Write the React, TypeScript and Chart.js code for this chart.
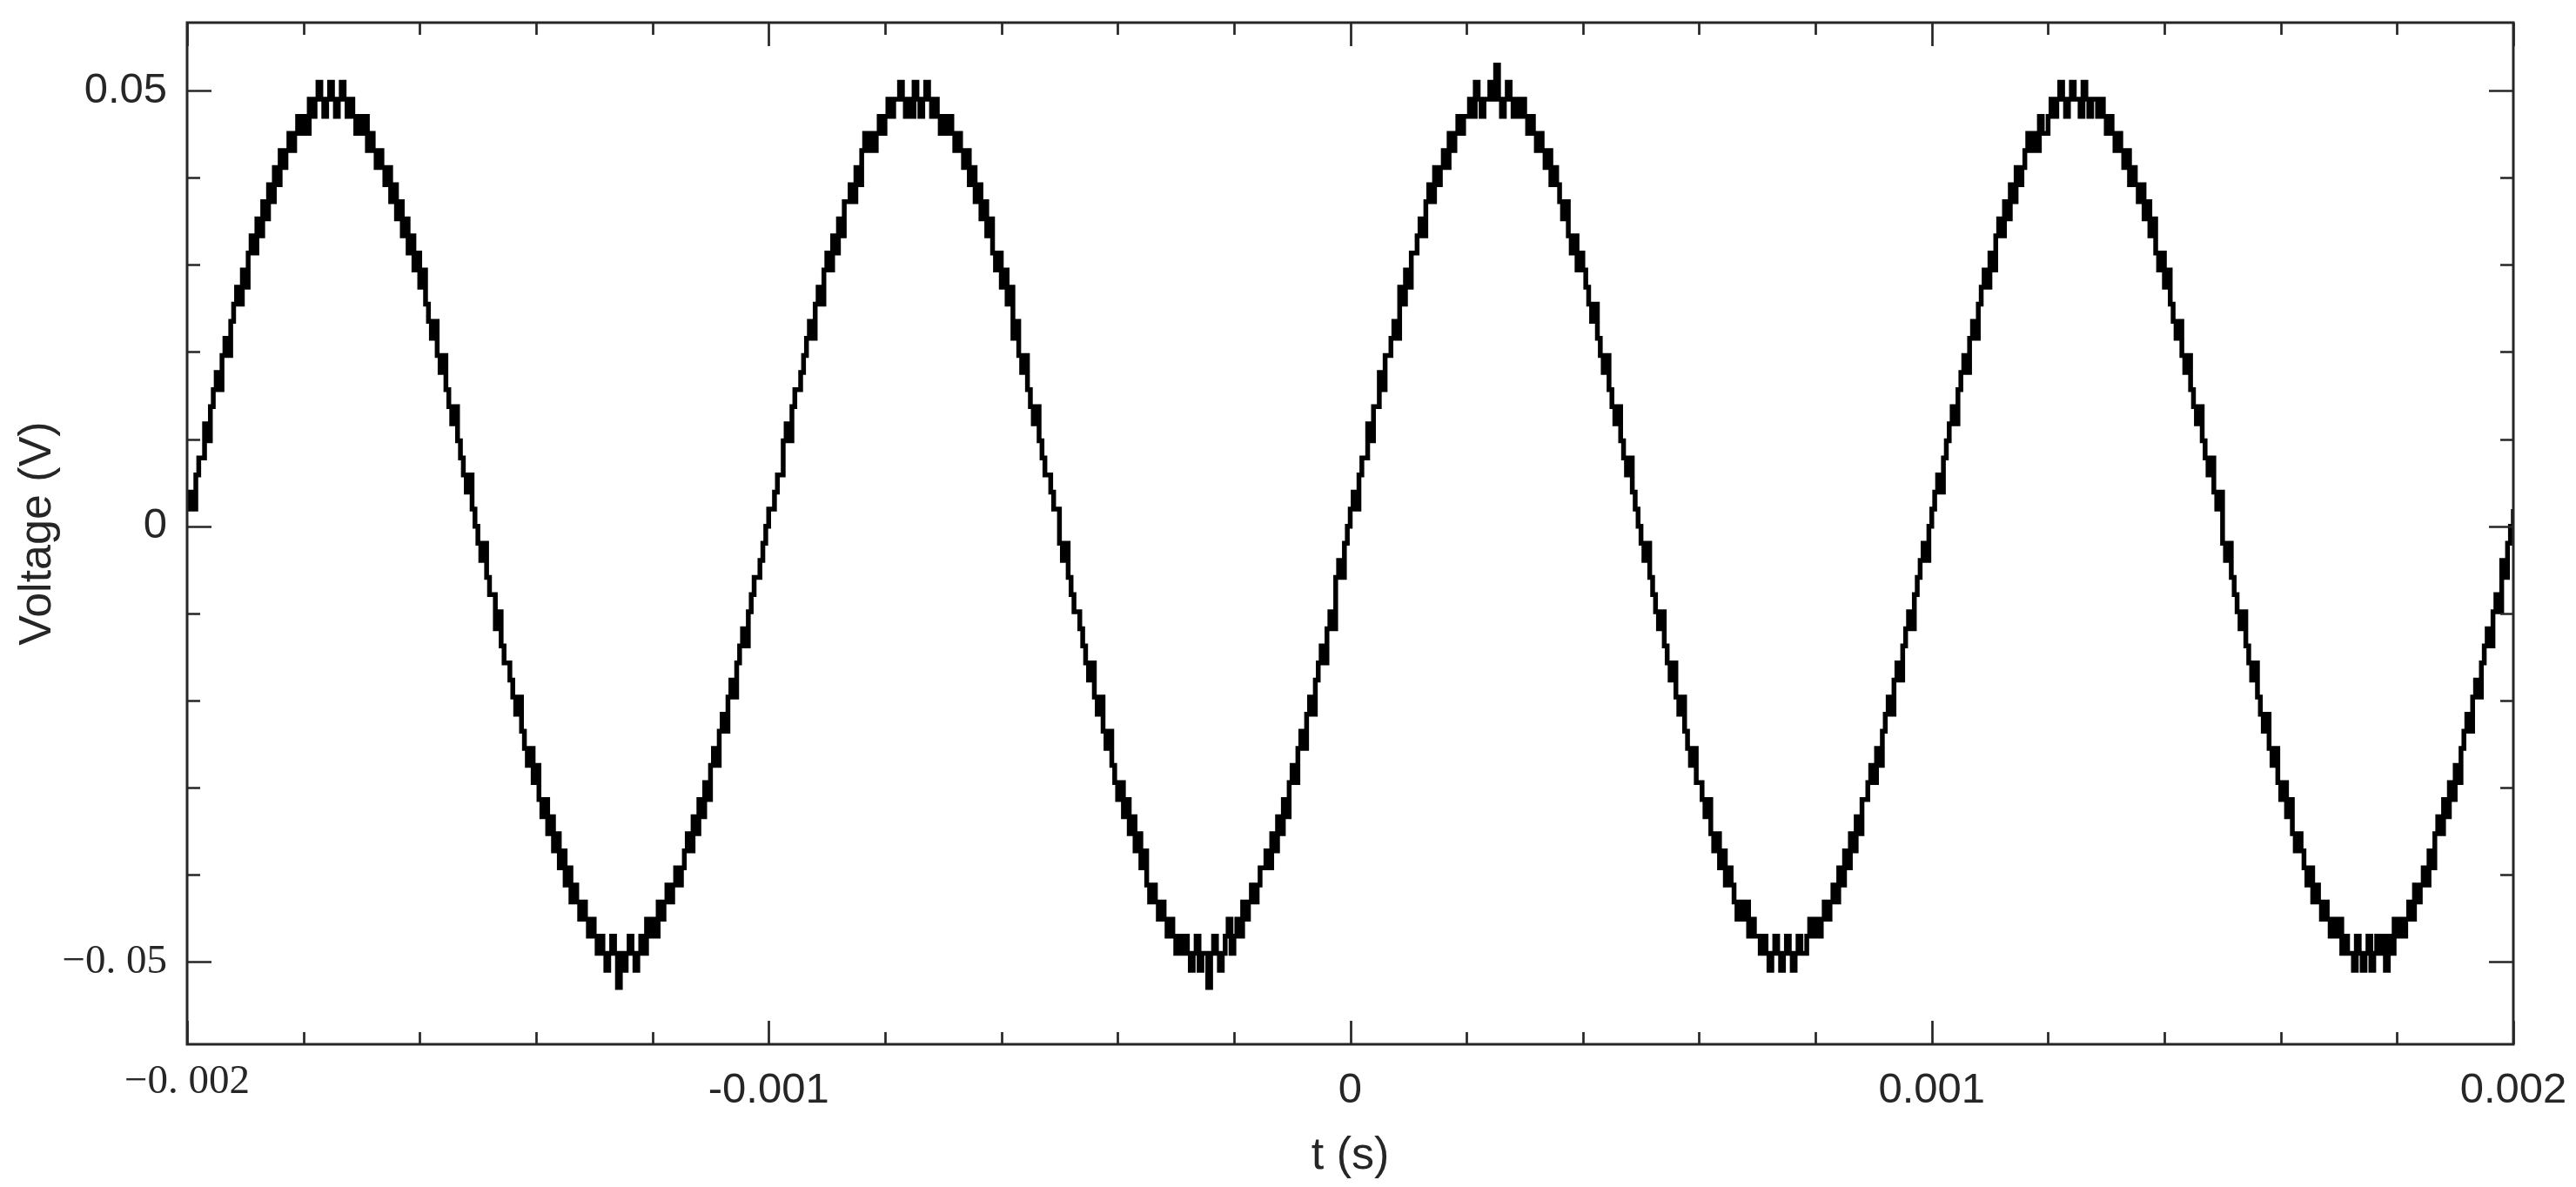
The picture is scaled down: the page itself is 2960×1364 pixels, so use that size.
import React, { useEffect, useRef } from "react";
import { Chart, registerables } from "chart.js";

Chart.register(...registerables);

// ---- sampling ----
const T_START = -0.002; // s, first sample
const SAMPLE_INTERVAL = 5e-6; // s between samples
const VOLTS_PER_CODE = 0.00196; // one ADC step in volts

// ---- ADC codes, one cycle (1 ms) per array ----
const CYCLE_1 = [
  1, 2, 1, 3, 4, 4, 6, 5, 7, 8,
  9, 8, 10, 11, 10, 12, 13, 14, 13, 15,
  14, 16, 17, 16, 18, 17, 19, 18, 20, 19,
  21, 20, 22, 21, 22, 23, 22, 23, 24, 23,
  24, 23, 25, 24, 25, 26, 25, 24, 25, 26,
  25, 24, 25, 26, 25, 24, 25, 24, 23, 24,
  23, 24, 22, 23, 22, 21, 22, 21, 20, 21,
  19, 20, 18, 19, 17, 18, 16, 17, 15, 16,
  14, 15, 13, 12, 11, 12, 10, 9, 10, 8,
  7, 6, 7, 5, 4, 3, 2, 3, 1, 0,
  -1, -2, -1, -3, -4, -4, -6, -5, -7, -8,
  -8, -9, -10, -11, -10, -12, -13, -14, -13, -15,
  -14, -16, -17, -16, -18, -17, -19, -18, -20, -19,
  -21, -20, -22, -21, -22, -23, -22, -23, -24, -23,
  -24, -25, -24, -25, -26, -25, -24, -25, -27, -25,
  -26, -25, -24, -25, -26, -25, -24, -25, -23, -24,
  -23, -24, -22, -23, -22, -21, -22, -21, -20, -21,
  -20, -19, -18, -19, -17, -18, -16, -17, -15, -16,
  -14, -13, -14, -12, -11, -12, -10, -9, -10, -8,
  -7, -6, -7, -5, -4, -3, -3, -2, -1, 0,
];

const CYCLE_2 = [
  1, 1, 2, 3, 3, 5, 6, 5, 7, 8,
  8, 9, 10, 11, 12, 11, 13, 14, 13, 15,
  16, 15, 17, 16, 18, 17, 19, 19, 20, 19,
  21, 20, 22, 23, 22, 23, 22, 23, 24, 23,
  24, 25, 24, 25, 25, 26, 25, 24, 25, 24,
  26, 25, 24, 25, 26, 25, 24, 25, 24, 23,
  24, 23, 24, 23, 22, 23, 22, 21, 22, 20,
  21, 19, 20, 18, 19, 17, 18, 16, 15, 16,
  14, 15, 13, 14, 11, 12, 10, 9, 10, 8,
  7, 6, 7, 5, 4, 3, 3, 2, 1, 1,
  -1, -2, -1, -3, -4, -5, -5, -6, -7, -8,
  -9, -8, -10, -11, -10, -12, -13, -12, -14, -15,
  -16, -15, -17, -16, -18, -17, -19, -18, -20, -19,
  -21, -22, -21, -22, -23, -22, -23, -24, -23, -24,
  -25, -24, -25, -24, -25, -26, -25, -24, -26, -25,
  -25, -27, -25, -24, -25, -26, -25, -24, -23, -25,
  -24, -23, -24, -22, -23, -22, -21, -22, -21, -20,
  -20, -19, -20, -18, -19, -17, -18, -16, -17, -15,
  -14, -15, -13, -12, -13, -11, -10, -11, -9, -8,
  -7, -8, -6, -5, -6, -3, -2, -3, -1, 0,
];

const CYCLE_3 = [
  1, 2, 1, 3, 4, 4, 6, 5, 7, 7,
  9, 8, 10, 10, 11, 12, 11, 14, 13, 15,
  14, 16, 16, 17, 18, 17, 19, 20, 19, 21,
  20, 21, 22, 21, 23, 22, 23, 24, 23, 24,
  24, 25, 24, 26, 25, 24, 25, 25, 26, 25,
  27, 25, 24, 25, 26, 25, 24, 25, 24, 25,
  24, 23, 24, 23, 22, 23, 22, 21, 22, 20,
  21, 20, 19, 18, 19, 17, 16, 17, 15, 16,
  15, 14, 13, 12, 13, 11, 10, 9, 10, 8,
  7, 6, 7, 5, 4, 3, 4, 2, 1, 0,
  -1, -2, -1, -3, -4, -5, -6, -5, -7, -8,
  -9, -8, -10, -11, -10, -12, -13, -14, -13, -15,
  -15, -16, -17, -16, -18, -19, -18, -20, -19, -21,
  -20, -21, -22, -23, -22, -23, -22, -24, -23, -24,
  -24, -25, -24, -25, -26, -25, -24, -25, -26, -25,
  -24, -25, -26, -25, -24, -25, -25, -24, -23, -24,
  -23, -24, -23, -22, -23, -22, -21, -22, -20, -21,
  -19, -20, -18, -19, -17, -18, -16, -16, -15, -14,
  -15, -13, -14, -12, -11, -10, -11, -9, -8, -9,
  -7, -6, -5, -6, -4, -3, -2, -1, -2, 0,
];

const CYCLE_4 = [
  1, 2, 3, 2, 4, 5, 6, 7, 6, 8,
  9, 10, 9, 11, 12, 11, 13, 14, 15, 14,
  16, 15, 17, 18, 17, 19, 18, 20, 19, 21,
  20, 21, 22, 23, 22, 23, 22, 24, 23, 23,
  24, 25, 24, 25, 26, 25, 24, 25, 26, 25,
  25, 24, 26, 25, 24, 25, 25, 24, 25, 24,
  23, 24, 23, 22, 23, 22, 21, 22, 20, 21,
  20, 19, 20, 18, 19, 17, 18, 16, 15, 16,
  14, 15, 13, 12, 11, 12, 10, 9, 10, 8,
  7, 6, 7, 5, 4, 3, 4, 2, 1, 2,
  -1, -2, -1, -3, -4, -5, -6, -5, -7, -8,
  -9, -8, -10, -11, -12, -11, -13, -14, -13, -15,
  -16, -15, -17, -16, -18, -19, -18, -19, -20, -21,
  -20, -22, -21, -22, -23, -22, -23, -24, -23, -24,
  -23, -25, -24, -25, -25, -26, -24, -25, -26, -25,
  -24, -26, -25, -24, -25, -24, -26, -24, -25, -23,
  -24, -23, -24, -23, -22, -23, -21, -22, -21, -20,
  -21, -19, -20, -18, -17, -18, -16, -17, -15, -16,
  -14, -15, -13, -12, -11, -12, -10, -9, -10, -8,
  -7, -6, -7, -5, -4, -5, -2, -3, -1, 0,
];

const LAST_SAMPLE = [1];

// ---- axes ----
const X_MIN = -0.002;
const X_MAX = 0.002;
const X_TICKS = [
  -0.002, -0.0018, -0.0016, -0.0014, -0.0012, -0.001, -0.0008, -0.0006, -0.0004, -0.0002,
  0, 0.0002, 0.0004, 0.0006, 0.0008, 0.001, 0.0012, 0.0014, 0.0016, 0.0018, 0.002,
];
const X_MAJOR = [-0.002, -0.001, 0, 0.001, 0.002];
const X_MAJOR_LABELS = ["\u22120. 002", "-0.001", "0", "0.001", "0.002"];

const Y_MIN = -0.05944;
const Y_MAX = 0.05779;
const Y_TICKS = [-0.05, -0.04, -0.03, -0.02, -0.01, 0, 0.01, 0.02, 0.03, 0.04, 0.05];
const Y_MAJOR = [-0.05, 0, 0.05];
const Y_MAJOR_LABELS = ["\u22120. 05", "0", "0.05"];

const SERIF_LABELS = ["\u22120. 002", "\u22120. 05"];

const X_TITLE = "t (s)";
const Y_TITLE = "Voltage (V)";

// ---- styling ----
const W = 2960;
const H = 1364;
const PLOT_LEFT = 215;
const PLOT_RIGHT_GAP = 72;
const PLOT_TOP = 26;
const PLOT_BOTTOM = 1200;
const AXIS_COLOR = "#262626";
const TEXT_COLOR = "#262626";
const SANS = "'Liberation Sans', Arial, sans-serif";
const SERIF = "'Liberation Serif', 'Times New Roman', serif";

const labelFor = (v: number, majors: number[], labels: string[]) => {
  const i = majors.findIndex((m) => Math.abs(m - v) < 1e-12);
  return i >= 0 ? labels[i] : "";
};
const isMajor = (v: number, majors: number[]) => majors.some((m) => Math.abs(m - v) < 1e-12);

const sansTick = { family: SANS, size: 49, lineHeight: 1.2 };
const serifTickX = { family: SERIF, size: 47, lineHeight: 0.83 };
const serifTickY = { family: SERIF, size: 47, lineHeight: 1.2 };

const framePlugin = {
  id: "frameTicks",
  afterDatasetsDraw(chart: any) {
    const { ctx, chartArea: a, scales } = chart;
    const xs = scales.x;
    const ys = scales.y;
    ctx.save();
    ctx.strokeStyle = AXIS_COLOR;
    ctx.lineCap = "butt";
    ctx.lineWidth = 2.7;
    ctx.beginPath();
    X_TICKS.forEach((v) => {
      const px = Math.round(xs.getPixelForValue(v)) + 0.5;
      const len = isMajor(v, X_MAJOR) ? 27 : 14;
      ctx.moveTo(px, a.bottom);
      ctx.lineTo(px, a.bottom - len);
      ctx.moveTo(px, a.top);
      ctx.lineTo(px, a.top + len);
    });
    Y_TICKS.forEach((v) => {
      const py = Math.round(ys.getPixelForValue(v)) + 0.5;
      const len = isMajor(v, Y_MAJOR) ? 28 : 15;
      ctx.moveTo(a.left, py);
      ctx.lineTo(a.left + len, py);
      ctx.moveTo(a.right, py);
      ctx.lineTo(a.right - len, py);
    });
    ctx.stroke();
    ctx.lineWidth = 3;
    ctx.strokeRect(a.left, a.top, a.right - a.left, a.bottom - a.top);
    ctx.restore();
  },
};

export default function App() {
  const ref = useRef<HTMLCanvasElement | null>(null);

  useEffect(() => {
    if (!ref.current) return;
    const codes = [...CYCLE_1, ...CYCLE_2, ...CYCLE_3, ...CYCLE_4, ...LAST_SAMPLE];
    const points = codes.map((c, i) => ({
      x: T_START + i * SAMPLE_INTERVAL,
      y: c * VOLTS_PER_CODE,
    }));

    const chart = new Chart(ref.current, {
      type: "line",
      data: {
        datasets: [
          {
            data: points,
            borderColor: "#000000",
            borderWidth: 5.5,
            borderJoinStyle: "miter",
            pointRadius: 0,
            stepped: true,
            fill: false,
          },
        ],
      },
      options: {
        responsive: false,
        animation: false,
        devicePixelRatio: 1,
        layout: { padding: { left: 0, right: PLOT_RIGHT_GAP, top: PLOT_TOP, bottom: 0 } },
        plugins: {
          legend: { display: false },
          tooltip: { enabled: false },
        },
        scales: {
          x: {
            type: "linear",
            min: X_MIN,
            max: X_MAX,
            grid: { display: false, drawTicks: false },
            border: { display: false },
            afterBuildTicks: (scale: any) => {
              scale.ticks = X_TICKS.map((v) => ({ value: v }));
            },
            afterFit: (scale: any) => {
              scale.height = H - PLOT_BOTTOM;
              scale.paddingLeft = 0;
              scale.paddingRight = 0;
              scale.paddingTop = 0;
              scale.paddingBottom = 0;
            },
            ticks: {
              autoSkip: false,
              maxRotation: 0,
              minRotation: 0,
              padding: 24,
              color: TEXT_COLOR,
              callback: (v: any) => labelFor(Number(v), X_MAJOR, X_MAJOR_LABELS),
              font: (ctx: any) => {
                const lbl = ctx.tick ? labelFor(ctx.tick.value, X_MAJOR, X_MAJOR_LABELS) : "";
                return SERIF_LABELS.includes(lbl) ? serifTickX : sansTick;
              },
            },
            title: {
              display: true,
              text: X_TITLE,
              color: TEXT_COLOR,
              font: { family: SANS, size: 52, lineHeight: 1.2 },
              padding: { top: 0, bottom: 4 },
            },
          },
          y: {
            type: "linear",
            min: Y_MIN,
            max: Y_MAX,
            grid: { display: false, drawTicks: false },
            border: { display: false },
            afterBuildTicks: (scale: any) => {
              scale.ticks = Y_TICKS.map((v) => ({ value: v }));
            },
            afterFit: (scale: any) => {
              scale.width = PLOT_LEFT;
              scale.paddingLeft = 0;
              scale.paddingRight = 0;
              scale.paddingTop = 0;
              scale.paddingBottom = 0;
            },
            ticks: {
              autoSkip: false,
              padding: 23,
              color: TEXT_COLOR,
              callback: (v: any) => labelFor(Number(v), Y_MAJOR, Y_MAJOR_LABELS),
              font: (ctx: any) => {
                const lbl = ctx.tick ? labelFor(ctx.tick.value, Y_MAJOR, Y_MAJOR_LABELS) : "";
                return SERIF_LABELS.includes(lbl) ? serifTickY : sansTick;
              },
            },
            title: {
              display: true,
              text: Y_TITLE,
              color: TEXT_COLOR,
              font: { family: SANS, size: 52, lineHeight: 1.2 },
              padding: { top: 12, bottom: 0 },
            },
          },
        },
      },
      plugins: [framePlugin],
    } as any);

    return () => chart.destroy();
  }, []);

  return (
    <div style={{ position: "fixed", left: 0, top: 0, width: W, height: H, background: "#ffffff" }}>
      <canvas ref={ref} width={W} height={H} style={{ display: "block", width: W, height: H }} />
    </div>
  );
}
